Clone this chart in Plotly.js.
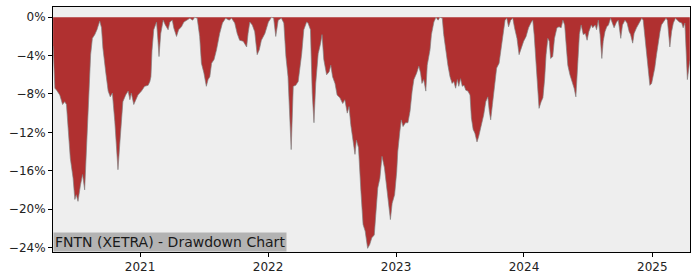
<!DOCTYPE html>
<html>
<head>
<meta charset="utf-8">
<script src="https://cdn.plot.ly/plotly-3.0.1.min.js"></script>
<style>html,body{margin:0;padding:0;background:#fff;}#chart{width:700px;height:280px;}</style>
</head>
<body>
<div id="chart"></div>
<script>
const dates = [
"2020-04-28","2020-05-03","2020-05-08","2020-05-17","2020-05-25","2020-05-31","2020-06-05","2020-06-10","2020-06-16","2020-06-24",
"2020-06-29","2020-07-03","2020-07-08","2020-07-15","2020-07-21","2020-07-27","2020-08-01","2020-08-08","2020-08-13","2020-08-18",
"2020-08-25","2020-08-31","2020-09-08","2020-09-13","2020-09-17","2020-09-25","2020-10-02","2020-10-08","2020-10-14","2020-10-21",
"2020-10-26","2020-10-30","2020-11-04","2020-11-09","2020-11-13","2020-11-21","2020-11-28","2020-12-03","2020-12-07","2020-12-14",
"2020-12-20","2020-12-26","2021-01-05","2021-01-14","2021-01-24","2021-01-29","2021-02-01","2021-02-04","2021-02-09","2021-02-17",
"2021-02-21","2021-02-24","2021-03-01","2021-03-08","2021-03-14","2021-03-22","2021-03-27","2021-04-03","2021-04-07","2021-04-15",
"2021-04-21","2021-04-29","2021-05-06","2021-05-13","2021-05-23","2021-05-31","2021-06-06","2021-06-13","2021-06-20","2021-06-25",
"2021-07-02","2021-07-09","2021-07-14","2021-07-19","2021-07-24","2021-07-31","2021-08-07","2021-08-16","2021-08-24","2021-09-02",
"2021-09-12","2021-09-19","2021-09-28","2021-10-05","2021-10-12","2021-10-22","2021-11-01","2021-11-05","2021-11-10","2021-11-17",
"2021-11-24","2021-12-01","2021-12-07","2021-12-13","2021-12-23","2022-01-02","2022-01-11","2022-01-17","2022-01-23","2022-01-30",
"2022-02-08","2022-02-15","2022-02-21","2022-02-27","2022-03-04","2022-03-08","2022-03-14","2022-03-21","2022-03-28","2022-04-07",
"2022-04-13","2022-04-21","2022-04-25","2022-05-02","2022-05-07","2022-05-12","2022-05-17","2022-05-24","2022-05-31","2022-06-04",
"2022-06-09","2022-06-17","2022-06-24","2022-06-29","2022-07-04","2022-07-11","2022-07-17","2022-07-25","2022-08-02","2022-08-08",
"2022-08-15","2022-08-20","2022-08-25","2022-09-01","2022-09-06","2022-09-10","2022-09-16","2022-09-23","2022-09-29","2022-10-05",
"2022-10-12","2022-10-18","2022-10-24","2022-10-31","2022-11-04","2022-11-10","2022-11-16","2022-11-22","2022-11-29","2022-12-05",
"2022-12-12","2022-12-16","2022-12-21","2022-12-28","2023-01-03","2023-01-06","2023-01-12","2023-01-16","2023-01-21","2023-01-28",
"2023-02-04","2023-02-10","2023-02-16","2023-02-21","2023-03-01","2023-03-07","2023-03-12","2023-03-16","2023-03-21","2023-03-27",
"2023-03-31","2023-04-08","2023-04-12","2023-04-19","2023-04-25","2023-05-01","2023-05-06","2023-05-13","2023-05-17","2023-05-22",
"2023-05-29","2023-06-04","2023-06-10","2023-06-15","2023-06-20","2023-06-25","2023-06-29","2023-07-04","2023-07-09","2023-07-14",
"2023-07-19","2023-07-25","2023-07-31","2023-08-04","2023-08-09","2023-08-14","2023-08-20","2023-08-25","2023-08-30","2023-09-04",
"2023-09-08","2023-09-14","2023-09-20","2023-09-24","2023-09-28","2023-10-03","2023-10-09","2023-10-15","2023-10-22","2023-10-28",
"2023-11-02","2023-11-08","2023-11-13","2023-11-18","2023-11-24","2023-11-30","2023-12-05","2023-12-12","2023-12-18","2023-12-24",
"2023-12-31","2024-01-07","2024-01-14","2024-01-22","2024-01-26","2024-01-30","2024-02-04","2024-02-10","2024-02-13","2024-02-19",
"2024-02-24","2024-02-29","2024-03-04","2024-03-09","2024-03-13","2024-03-17","2024-03-23","2024-03-28","2024-04-04","2024-04-10",
"2024-04-16","2024-04-21","2024-04-26","2024-05-01","2024-05-05","2024-05-11","2024-05-17","2024-05-23","2024-05-28","2024-06-02",
"2024-06-07","2024-06-12","2024-06-18","2024-06-24","2024-06-29","2024-07-04","2024-07-11","2024-07-15","2024-07-22","2024-07-26",
"2024-07-31","2024-08-05","2024-08-10","2024-08-14","2024-08-19","2024-08-24","2024-08-29","2024-09-04","2024-09-10","2024-09-14",
"2024-09-21","2024-09-26","2024-10-03","2024-10-08","2024-10-15","2024-10-21","2024-10-27","2024-10-31","2024-11-06","2024-11-10",
"2024-11-17","2024-11-24","2024-12-02","2024-12-06","2024-12-11","2024-12-16","2024-12-20","2024-12-25","2024-12-30","2025-01-03",
"2025-01-08","2025-01-13","2025-01-18","2025-01-23","2025-01-27","2025-02-01","2025-02-09","2025-02-13","2025-02-17","2025-02-20",
"2025-02-25","2025-03-02","2025-03-08","2025-03-13","2025-03-19","2025-03-26","2025-03-30","2025-04-04","2025-04-09","2025-04-11",
"2025-04-18"
];
const drawdownPct = [
-3.0,-7.4,-7.6,-8.1,-9.1,-8.8,-9.1,-11.9,-14.7,-16.8,
-19.0,-18.5,-19.2,-17.5,-16.4,-18.0,-14.3,-9.1,-3.9,-2.2,
-1.8,-1.3,-0.4,-1.1,-3.2,-5.7,-7.7,-8.3,-7.9,-10.9,
-13.3,-15.9,-13.3,-10.2,-8.8,-8.1,-7.7,-8.6,-7.9,-9.1,
-8.6,-8.1,-7.7,-7.2,-7.1,-6.7,-6.2,-3.5,-1.3,-0.5,
-2.4,-4.1,-1.7,-0.3,-0.8,-1.3,-0.5,-0.3,-1.1,-2.0,
-1.3,-1.0,-0.5,-0.3,-0.1,-0.3,0.0,-0.1,-2.0,-4.8,
-5.8,-7.2,-6.5,-6.2,-4.8,-4.4,-3.4,-1.7,-0.6,-0.1,
-0.3,-0.1,-0.6,-1.7,-2.4,-2.5,-3.1,-1.7,-0.5,-0.8,
-1.5,-3.9,-3.4,-2.4,-1.7,-0.5,0.0,-0.1,-2.0,-0.3,
-0.1,-0.6,-4.1,-6.2,-9.7,-13.8,-7.2,-7.1,-6.7,-3.8,
-1.3,-0.5,-0.6,-1.3,-7.9,-11.0,-6.9,-3.8,-2.7,-1.8,
-4.4,-6.0,-5.7,-5.0,-6.2,-6.9,-8.1,-8.4,-9.0,-8.6,
-10.0,-9.3,-11.2,-13.0,-14.3,-12.8,-13.6,-18.2,-21.6,-22.3,
-24.1,-23.7,-23.0,-22.7,-20.3,-17.8,-16.8,-14.5,-15.7,-17.5,
-19.6,-21.1,-19.4,-18.5,-16.1,-14.0,-11.9,-10.7,-11.4,-11.0,
-11.0,-9.8,-7.7,-6.5,-5.8,-5.1,-5.8,-6.9,-6.5,-7.7,
-5.0,-3.4,-1.8,-0.5,0.0,-0.3,0.0,-0.1,-1.8,-3.2,
-5.0,-6.2,-6.9,-6.7,-7.4,-6.5,-7.2,-6.4,-7.2,-7.1,
-7.6,-7.7,-8.1,-10.5,-11.7,-12.1,-13.0,-12.4,-11.6,-10.5,
-10.2,-8.8,-8.3,-9.8,-10.7,-9.1,-7.4,-5.3,-4.8,-3.2,
-1.5,-0.3,-0.1,-1.0,-0.3,-0.1,-1.1,-2.2,-3.9,-3.2,
-2.5,-2.0,-1.1,-0.5,-0.3,-1.8,-4.3,-7.7,-9.5,-8.8,
-8.4,-6.4,-3.9,-2.2,-2.5,-4.3,-4.1,-2.2,-1.1,-1.0,
-1.1,-0.3,-0.8,-3.2,-5.0,-6.0,-6.7,-7.4,-8.3,-5.0,
-1.8,-0.8,-1.8,-1.7,-2.4,-1.5,-0.8,-1.1,-0.8,-1.3,
-0.3,-1.8,-4.3,-2.5,-1.5,-1.0,-0.8,-0.1,-0.6,-1.1,
-0.5,-0.3,-2.2,-0.8,-0.3,-0.6,-1.5,-1.8,-2.7,-1.7,
-1.1,-0.6,-0.1,-0.3,-2.2,-4.3,-6.0,-7.1,-6.9,-6.2,
-5.3,-3.9,-2.5,-1.5,-0.8,-0.5,-0.1,-0.3,-1.8,-3.1,
-1.5,-0.6,-0.1,-0.3,-0.5,-0.6,-1.1,-0.6,-5.7,-6.5,
-4.5
];
const yTickVals = [0, -4, -8, -12, -16, -20, -24];
const yTickText = ["0%", "\u22124%", "\u22128%", "\u221212%", "\u221216%", "\u221220%", "\u221224%"];
const xTickVals = ["2021-01-01", "2022-01-01", "2023-01-01", "2024-01-01", "2025-01-01"];
const xTickText = ["2021", "2022", "2023", "2024", "2025"];
const chartTitle = "FNTN (XETRA) - Drawdown Chart";

const trace = {
  x: dates,
  y: drawdownPct,
  type: "scatter",
  mode: "lines",
  fill: "tozeroy",
  fillcolor: "#b03030",
  line: {color: "rgba(128,128,128,0.75)", width: 0.9},
  hoverinfo: "skip"
};
const layout = {
  width: 700, height: 280,
  margin: {l: 53, r: 10, t: 7, b: 28, pad: 0},
  paper_bgcolor: "#ffffff",
  plot_bgcolor: "#eeeeee",
  showlegend: false,
  font: {family: "DejaVu Sans", size: 12, color: "#222"},
  xaxis: {
    type: "date",
    range: ["2020-04-27 16:00", "2025-04-18 12:00"],
    tickvals: xTickVals, ticktext: xTickText,
    showgrid: false, zeroline: false,
    showline: true, linecolor: "#000", linewidth: 1, mirror: true,
    ticks: "outside", ticklen: 4, tickcolor: "#000", tickwidth: 1,
    tickfont: {family: "DejaVu Sans", size: 12, color: "#222"}
  },
  yaxis: {
    range: [-24.48, 1.07],
    tickvals: yTickVals, ticktext: yTickText,
    showgrid: false, zeroline: false,
    showline: true, linecolor: "#000", linewidth: 1, mirror: true,
    ticks: "outside", ticklen: 4, tickcolor: "#000", tickwidth: 1,
    tickfont: {family: "DejaVu Sans", size: 12, color: "#222"}
  },
  annotations: [{
    text: chartTitle,
    xref: "paper", yref: "paper", x: 0, y: 0,
    xanchor: "left", yanchor: "bottom",
    showarrow: false,
    bgcolor: "#b3b3b3",
    borderpad: 1,
    font: {family: "DejaVu Sans", size: 14, color: "#1a1a1a"}
  }]
};
Plotly.newPlot("chart", [trace], layout, {displayModeBar: false, staticPlot: true});
</script>
</body>
</html>
